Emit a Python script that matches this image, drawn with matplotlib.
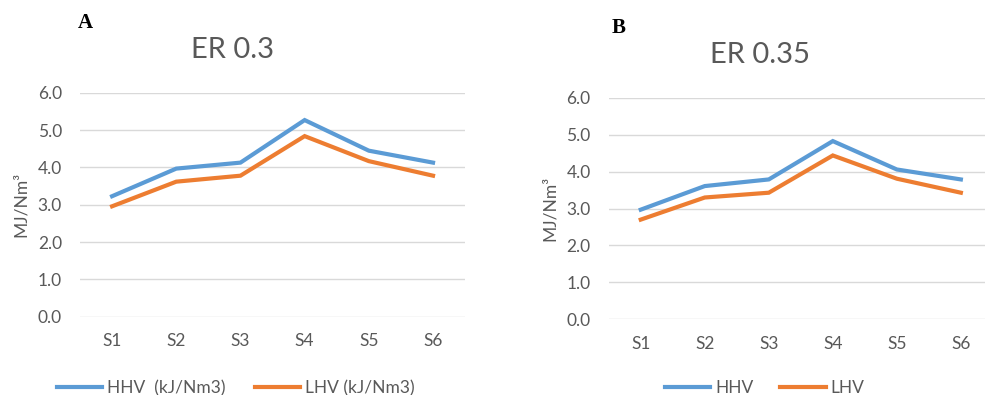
import matplotlib
matplotlib.use("Agg")
import matplotlib.pyplot as plt
import numpy as np

plt.rcParams["font.family"] = ["Lato", "DejaVu Sans"]

# Datos
stages = ["S1", "S2", "S3", "S4", "S5", "S6"]
hhv_a = [3.23, 3.97, 4.13, 5.27, 4.45, 4.13]
lhv_a = [2.96, 3.62, 3.78, 4.84, 4.17, 3.78]
hhv_b = [2.97, 3.61, 3.79, 4.83, 4.06, 3.79]
lhv_b = [2.70, 3.30, 3.43, 4.44, 3.81, 3.43]
yticks = [0.0, 1.0, 2.0, 3.0, 4.0, 5.0, 6.0]

BLUE = "#5B9BD5"
ORANGE = "#ED7D31"
GRAY = "#595959"
GRID = "#D9D9D9"
FS = 12.5

fig = plt.figure(figsize=(9.85, 3.95), dpi=100, facecolor="white")
ax1 = fig.add_axes([0.0812, 0.198, 0.391, 0.567])
ax2 = fig.add_axes([0.618, 0.192, 0.390, 0.560])


def style_axis(ax, title, title_x, hhv, lhv):
    x = np.arange(len(stages))
    ax.plot(x, hhv, color=BLUE, lw=3.0, solid_joinstyle="miter")
    ax.plot(x, lhv, color=ORANGE, lw=3.0, solid_joinstyle="miter")
    ax.set_xlim(-0.5, len(stages) - 0.5)
    ax.set_ylim(0, 6)
    ax.set_yticks(yticks)
    ax.set_yticklabels([f"{v:.1f}" for v in yticks])
    ax.set_xticks(x)
    ax.set_xticklabels(stages)
    ax.tick_params(axis="both", length=0, colors=GRAY, labelsize=FS)
    ax.tick_params(axis="y", pad=13)
    ax.tick_params(axis="x", pad=12)
    for s in ax.spines.values():
        s.set_visible(False)
    ax.grid(axis="y", color=GRID, lw=1)
    ax.set_axisbelow(True)
    ax.set_ylabel("MJ/Nm³", color=GRAY, fontsize=FS, labelpad=6)
    ax.set_title(title, color=GRAY, fontsize=21, pad=25, x=title_x)


style_axis(ax1, "ER 0.3", 0.397, hhv_a, lhv_a)
style_axis(ax2, "ER 0.35", 0.393, hhv_b, lhv_b)

# Letras de panel
fig.text(0.079, 0.942, "A", family="Liberation Serif", fontweight="bold", fontsize=15, va="center")
fig.text(0.621, 0.928, "B", family="Liberation Serif", fontweight="bold", fontsize=15, va="center")

# Leyendas
leg_kw = dict(loc="center left", bbox_transform=fig.transFigure, ncol=2,
              frameon=False, fontsize=FS, handlelength=2.6, handletextpad=0.3,
              borderpad=0, borderaxespad=0)
leg1 = ax1.legend(["HHV  (kJ/Nm3)", "LHV (kJ/Nm3)"],
                  bbox_to_anchor=(0.058, 0.018), columnspacing=1.65, **leg_kw)
leg2 = ax2.legend(["HHV", "LHV"],
                  bbox_to_anchor=(0.675, 0.018), columnspacing=1.55, **leg_kw)
for leg in (leg1, leg2):
    for t in leg.get_texts():
        t.set_color(GRAY)

fig.savefig("out.png", dpi=100, facecolor="white")
